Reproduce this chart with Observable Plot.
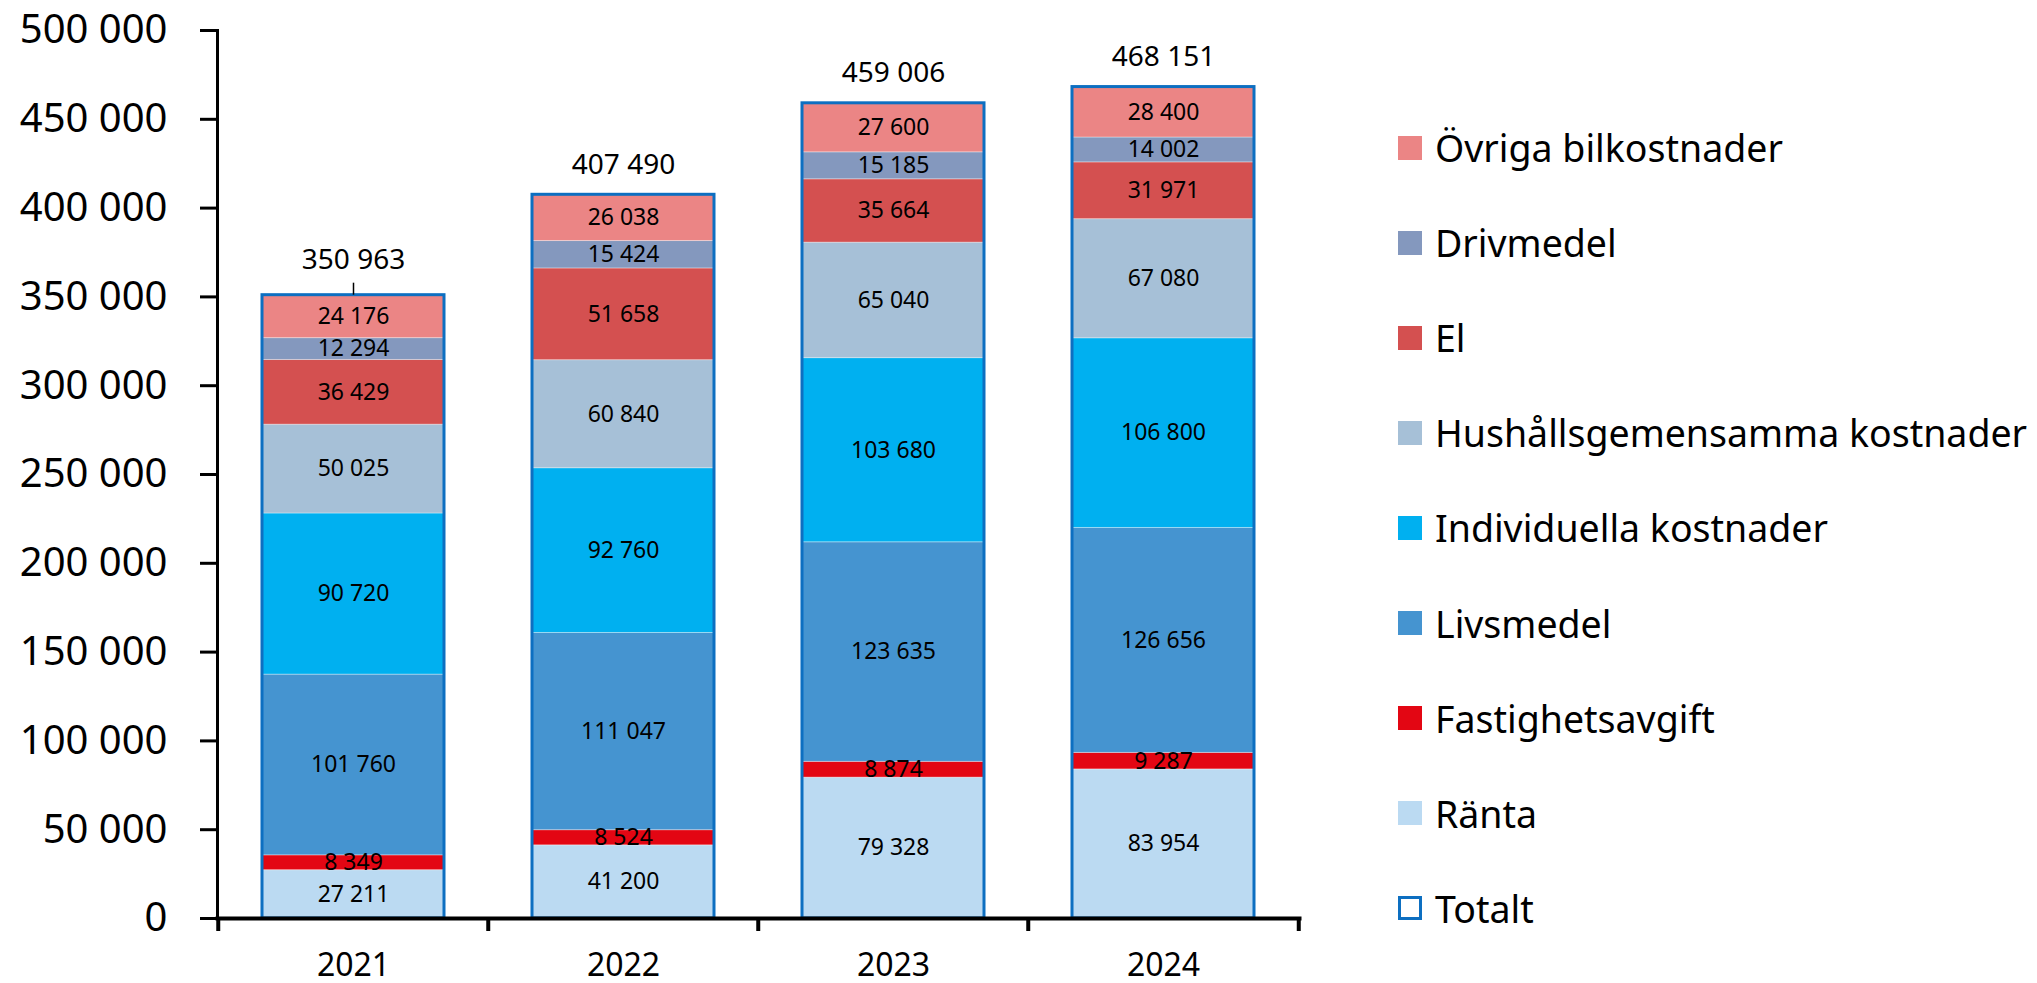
<!DOCTYPE html>
<html>
<head>
<meta charset="utf-8">
<script src="https://cdn.jsdelivr.net/npm/d3@7"></script>
<script src="https://cdn.jsdelivr.net/npm/@observablehq/plot@0.6"></script>
<style>
  html, body { margin: 0; padding: 0; background: #fff; }
  #wrap { position: relative; width: 2037px; height: 983px; font-family: "Noto Sans", sans-serif; }
  #legend { position: absolute; left: 1398px; top: 100.5px; }
  .row { height: 95.06px; display: flex; align-items: center; }
  .sw { width: 24px; height: 24px; margin-right: 13px; box-sizing: border-box; flex: none; }
  .lab { font-size: 37.5px; line-height: 1; color: #000; white-space: nowrap; }
</style>
</head>
<body>
<div id="wrap"><div id="chart"></div><div id="legend"></div></div>
<script>
const years = ["2021", "2022", "2023", "2024"];
const categories = ["Ränta", "Fastighetsavgift", "Livsmedel", "Individuella kostnader",
  "Hushållsgemensamma kostnader", "El", "Drivmedel", "Övriga bilkostnader"];
const colors = ["#bbdaf2", "#e30613", "#4594d0", "#00b0f0", "#a6c0d7", "#d45050", "#8498be", "#eb8585"];
const ranta = [27211, 41200, 79328, 83954];
const fastighetsavgift = [8349, 8524, 8874, 9287];
const livsmedel = [101760, 111047, 123635, 126656];
const individuella = [90720, 92760, 103680, 106800];
const hushallsgemensamma = [50025, 60840, 65040, 67080];
const el = [36429, 51658, 35664, 31971];
const drivmedel = [12294, 15424, 15185, 14002];
const ovriga = [24176, 26038, 27600, 28400];
const totals = [350963, 407490, 459006, 468151];
const yTicks = [0, 50000, 100000, 150000, 200000, 250000, 300000, 350000, 400000, 450000, 500000];
const totalLabel = "Totalt";
const totalColor = "#0d6fc1";

const series = [ranta, fastighetsavgift, livsmedel, individuella, hushallsgemensamma, el, drivmedel, ovriga];
const rows = [];
years.forEach((year, j) => {
  categories.forEach((category, i) => rows.push({year, category, value: series[i][j]}));
});
const totalRows = years.map((year, j) => ({year, total: totals[j]}));
const fmt = v => d3.format(",")(v).replace(/,/g, " ");

const W = 2037, H = 983, mL = 217, mR = 738, mT = 30, mB = 65;
const halfStep = (W - mL - mR) / years.length / 2;

const chart = Plot.plot({
  width: W, height: H,
  marginLeft: mL, marginRight: mR, marginTop: mT, marginBottom: mB,
  style: {fontFamily: "Noto Sans, sans-serif", color: "#000", background: "#fff"},
  x: {domain: years, paddingInner: 0.327, paddingOuter: 0.1635, label: null},
  y: {domain: [0, 500000], label: null},
  color: {domain: categories, range: colors},
  marks: [
    Plot.barY(rows, {x: "year", y: "value", fill: "category", stroke: "#ffffff", strokeOpacity: 0.35, strokeWidth: 1}),
    Plot.text(rows, Plot.stackY({x: "year", y: "value", z: "category", text: d => fmt(d.value), fontSize: 23, fill: "#000"})),
    Plot.barY(totalRows, {x: "year", y: "total", fill: "none", stroke: totalColor, strokeWidth: 3}),
    Plot.text(totalRows.filter(d => d.year !== "2021"), {x: "year", y: "total", text: d => fmt(d.total), dy: -30, fontSize: 28, fill: "#000"}),
    Plot.text(totalRows.filter(d => d.year === "2021"), {x: "year", y: "total", text: d => fmt(d.total), dy: -35, fontSize: 28, fill: "#000"}),
    Plot.ruleX(totalRows.filter(d => d.year === "2021"), {x: "year", y1: "total", y2: "total", insetBottom: 12, stroke: "#000", strokeWidth: 1.5}),
    Plot.frame({anchor: "left", stroke: "#000", strokeWidth: 3}),
    Plot.frame({anchor: "bottom", stroke: "#000", strokeWidth: 4}),
    Plot.axisY(yTicks, {tickSize: 17, tickPadding: 33, fontSize: 40, strokeWidth: 3, tickFormat: fmt, label: null}),
    Plot.axisX({tickSize: 0, tickPadding: 35, fontSize: 32, label: null}),
    Plot.ruleX(years, {x: d => d, y1: 0, y2: 0, insetBottom: -13, dx: -halfStep, stroke: "#000", strokeWidth: 4}),
    Plot.ruleX(years.slice(-1), {x: d => d, y1: 0, y2: 0, insetBottom: -13, dx: halfStep, stroke: "#000", strokeWidth: 4})
  ]
});
document.getElementById("chart").appendChild(chart);

const legend = document.getElementById("legend");
categories.slice().reverse().forEach(c => {
  const r = document.createElement("div"); r.className = "row";
  const s = document.createElement("div"); s.className = "sw"; s.style.background = colors[categories.indexOf(c)];
  const t = document.createElement("div"); t.className = "lab"; t.textContent = c;
  r.append(s, t); legend.append(r);
});
{
  const r = document.createElement("div"); r.className = "row";
  const s = document.createElement("div"); s.className = "sw"; s.style.border = `3px solid ${totalColor}`;
  const t = document.createElement("div"); t.className = "lab"; t.textContent = totalLabel;
  r.append(s, t); legend.append(r);
}
</script>
</body>
</html>
